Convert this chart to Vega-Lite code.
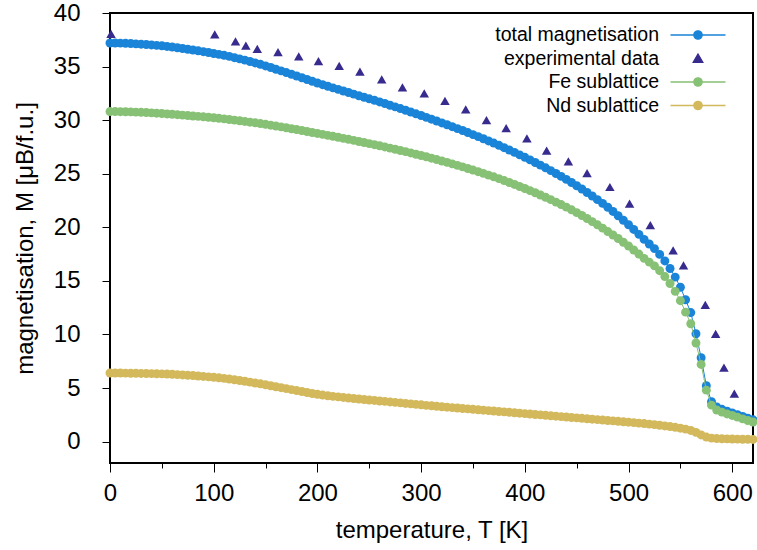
{
  "$schema": "https://vega.github.io/schema/vega-lite/v6.json",
  "width": 643,
  "height": 450,
  "autosize": {"type": "none"},
  "padding": {"left": 110, "top": 13, "right": 4, "bottom": 87},
  "background": "white",
  "config": {
    "font": "Liberation Sans",
    "view": {"stroke": "#000000", "strokeWidth": 2},
    "axis": {
      "labelFont": "Liberation Sans", "titleFont": "Liberation Sans",
      "labelFontSize": 24, "titleFontSize": 24, "titleFontWeight": "normal",
      "labelColor": "#000000", "titleColor": "#000000",
      "tickColor": "#000000", "tickWidth": 1, "domain": false, "grid": false,
      "labelOverlap": false, "labelFlush": false
    }
  },
  "datasets": {
    "total": [
      {"T":0,"M":37.20},{"T":5,"M":37.20},{"T":10,"M":37.19},{"T":15,"M":37.17},{"T":20,"M":37.15},{"T":25,"M":37.12},{"T":30,"M":37.09},{"T":35,"M":37.06},{"T":40,"M":37.02},{"T":45,"M":36.98},
      {"T":50,"M":36.94},{"T":55,"M":36.88},{"T":60,"M":36.83},{"T":65,"M":36.76},{"T":70,"M":36.69},{"T":75,"M":36.62},{"T":80,"M":36.55},{"T":85,"M":36.47},{"T":90,"M":36.39},{"T":95,"M":36.31},
      {"T":100,"M":36.22},{"T":105,"M":36.14},{"T":110,"M":36.05},{"T":115,"M":35.95},{"T":120,"M":35.83},{"T":125,"M":35.72},{"T":130,"M":35.60},{"T":135,"M":35.47},{"T":140,"M":35.34},{"T":145,"M":35.21},
      {"T":150,"M":35.06},{"T":155,"M":34.91},{"T":160,"M":34.75},{"T":165,"M":34.60},{"T":170,"M":34.44},{"T":175,"M":34.28},{"T":180,"M":34.12},{"T":185,"M":33.96},{"T":190,"M":33.79},{"T":195,"M":33.63},
      {"T":200,"M":33.47},{"T":205,"M":33.31},{"T":210,"M":33.16},{"T":215,"M":33.01},{"T":220,"M":32.87},{"T":225,"M":32.72},{"T":230,"M":32.58},{"T":235,"M":32.43},{"T":240,"M":32.28},{"T":245,"M":32.14},
      {"T":250,"M":31.99},{"T":255,"M":31.85},{"T":260,"M":31.70},{"T":265,"M":31.55},{"T":270,"M":31.39},{"T":275,"M":31.24},{"T":280,"M":31.08},{"T":285,"M":30.92},{"T":290,"M":30.76},{"T":295,"M":30.59},
      {"T":300,"M":30.43},{"T":305,"M":30.26},{"T":310,"M":30.09},{"T":315,"M":29.92},{"T":320,"M":29.74},{"T":325,"M":29.57},{"T":330,"M":29.39},{"T":335,"M":29.21},{"T":340,"M":29.03},{"T":345,"M":28.84},
      {"T":350,"M":28.65},{"T":355,"M":28.46},{"T":360,"M":28.26},{"T":365,"M":28.06},{"T":370,"M":27.86},{"T":375,"M":27.65},{"T":380,"M":27.43},{"T":385,"M":27.21},{"T":390,"M":26.99},{"T":395,"M":26.76},
      {"T":400,"M":26.53},{"T":405,"M":26.29},{"T":410,"M":26.05},{"T":415,"M":25.80},{"T":420,"M":25.55},{"T":425,"M":25.29},{"T":430,"M":25.02},{"T":435,"M":24.75},{"T":440,"M":24.47},{"T":445,"M":24.18},
      {"T":450,"M":23.88},{"T":455,"M":23.57},{"T":460,"M":23.25},{"T":465,"M":22.92},{"T":470,"M":22.58},{"T":475,"M":22.23},{"T":480,"M":21.87},{"T":485,"M":21.48},{"T":490,"M":21.08},{"T":495,"M":20.66},
      {"T":500,"M":20.24},{"T":505,"M":19.80},{"T":510,"M":19.34},{"T":515,"M":18.87},{"T":520,"M":18.44},{"T":525,"M":18.01},{"T":530,"M":17.47},{"T":535,"M":16.86},{"T":540,"M":16.15},{"T":545,"M":15.35},
      {"T":550,"M":14.40},{"T":555,"M":13.24},{"T":560,"M":12.04},{"T":565,"M":10.06},{"T":570,"M":7.82},{"T":575,"M":5.22},{"T":580,"M":3.72},{"T":585,"M":3.23},{"T":590,"M":3.01},{"T":595,"M":2.83},
      {"T":600,"M":2.68},{"T":605,"M":2.51},{"T":610,"M":2.34},{"T":615,"M":2.18},{"T":620,"M":2.03}
    ],
    "fe": [
      {"T":0,"M":30.80},{"T":5,"M":30.80},{"T":10,"M":30.79},{"T":15,"M":30.78},{"T":20,"M":30.77},{"T":25,"M":30.75},{"T":30,"M":30.73},{"T":35,"M":30.71},{"T":40,"M":30.68},{"T":45,"M":30.65},
      {"T":50,"M":30.62},{"T":55,"M":30.58},{"T":60,"M":30.55},{"T":65,"M":30.51},{"T":70,"M":30.47},{"T":75,"M":30.43},{"T":80,"M":30.39},{"T":85,"M":30.35},{"T":90,"M":30.31},{"T":95,"M":30.27},
      {"T":100,"M":30.22},{"T":105,"M":30.17},{"T":110,"M":30.12},{"T":115,"M":30.06},{"T":120,"M":30.00},{"T":125,"M":29.94},{"T":130,"M":29.88},{"T":135,"M":29.81},{"T":140,"M":29.75},{"T":145,"M":29.68},
      {"T":150,"M":29.61},{"T":155,"M":29.53},{"T":160,"M":29.45},{"T":165,"M":29.37},{"T":170,"M":29.29},{"T":175,"M":29.20},{"T":180,"M":29.12},{"T":185,"M":29.03},{"T":190,"M":28.94},{"T":195,"M":28.85},
      {"T":200,"M":28.76},{"T":205,"M":28.67},{"T":210,"M":28.58},{"T":215,"M":28.49},{"T":220,"M":28.40},{"T":225,"M":28.30},{"T":230,"M":28.21},{"T":235,"M":28.11},{"T":240,"M":28.01},{"T":245,"M":27.91},
      {"T":250,"M":27.81},{"T":255,"M":27.71},{"T":260,"M":27.61},{"T":265,"M":27.50},{"T":270,"M":27.39},{"T":275,"M":27.28},{"T":280,"M":27.17},{"T":285,"M":27.06},{"T":290,"M":26.94},{"T":295,"M":26.82},
      {"T":300,"M":26.70},{"T":305,"M":26.58},{"T":310,"M":26.45},{"T":315,"M":26.32},{"T":320,"M":26.19},{"T":325,"M":26.06},{"T":330,"M":25.92},{"T":335,"M":25.78},{"T":340,"M":25.64},{"T":345,"M":25.49},
      {"T":350,"M":25.34},{"T":355,"M":25.19},{"T":360,"M":25.03},{"T":365,"M":24.87},{"T":370,"M":24.71},{"T":375,"M":24.54},{"T":380,"M":24.36},{"T":385,"M":24.18},{"T":390,"M":24.00},{"T":395,"M":23.81},
      {"T":400,"M":23.62},{"T":405,"M":23.42},{"T":410,"M":23.22},{"T":415,"M":23.01},{"T":420,"M":22.80},{"T":425,"M":22.58},{"T":430,"M":22.35},{"T":435,"M":22.12},{"T":440,"M":21.88},{"T":445,"M":21.63},
      {"T":450,"M":21.37},{"T":455,"M":21.10},{"T":460,"M":20.82},{"T":465,"M":20.53},{"T":470,"M":20.23},{"T":475,"M":19.92},{"T":480,"M":19.60},{"T":485,"M":19.28},{"T":490,"M":18.95},{"T":495,"M":18.60},
      {"T":500,"M":18.25},{"T":505,"M":17.88},{"T":510,"M":17.50},{"T":515,"M":17.10},{"T":520,"M":16.75},{"T":525,"M":16.40},{"T":530,"M":15.95},{"T":535,"M":15.40},{"T":540,"M":14.75},{"T":545,"M":14.02},
      {"T":550,"M":13.15},{"T":555,"M":12.08},{"T":560,"M":11.00},{"T":565,"M":9.20},{"T":570,"M":7.20},{"T":575,"M":4.80},{"T":580,"M":3.40},{"T":585,"M":2.95},{"T":590,"M":2.75},{"T":595,"M":2.58},
      {"T":600,"M":2.44},{"T":605,"M":2.28},{"T":610,"M":2.12},{"T":615,"M":1.97},{"T":620,"M":1.83}
    ],
    "nd": [
      {"T":0,"M":6.40},{"T":5,"M":6.40},{"T":10,"M":6.40},{"T":15,"M":6.39},{"T":20,"M":6.38},{"T":25,"M":6.37},{"T":30,"M":6.36},{"T":35,"M":6.35},{"T":40,"M":6.34},{"T":45,"M":6.33},
      {"T":50,"M":6.32},{"T":55,"M":6.30},{"T":60,"M":6.28},{"T":65,"M":6.25},{"T":70,"M":6.22},{"T":75,"M":6.19},{"T":80,"M":6.16},{"T":85,"M":6.12},{"T":90,"M":6.08},{"T":95,"M":6.04},
      {"T":100,"M":6.00},{"T":105,"M":5.95},{"T":110,"M":5.90},{"T":115,"M":5.84},{"T":120,"M":5.77},{"T":125,"M":5.70},{"T":130,"M":5.63},{"T":135,"M":5.55},{"T":140,"M":5.47},{"T":145,"M":5.39},
      {"T":150,"M":5.30},{"T":155,"M":5.21},{"T":160,"M":5.12},{"T":165,"M":5.03},{"T":170,"M":4.94},{"T":175,"M":4.85},{"T":180,"M":4.76},{"T":185,"M":4.67},{"T":190,"M":4.58},{"T":195,"M":4.49},
      {"T":200,"M":4.41},{"T":205,"M":4.34},{"T":210,"M":4.28},{"T":215,"M":4.22},{"T":220,"M":4.17},{"T":225,"M":4.12},{"T":230,"M":4.07},{"T":235,"M":4.02},{"T":240,"M":3.97},{"T":245,"M":3.93},
      {"T":250,"M":3.88},{"T":255,"M":3.84},{"T":260,"M":3.79},{"T":265,"M":3.75},{"T":270,"M":3.70},{"T":275,"M":3.66},{"T":280,"M":3.61},{"T":285,"M":3.56},{"T":290,"M":3.52},{"T":295,"M":3.47},
      {"T":300,"M":3.43},{"T":305,"M":3.38},{"T":310,"M":3.34},{"T":315,"M":3.30},{"T":320,"M":3.25},{"T":325,"M":3.21},{"T":330,"M":3.17},{"T":335,"M":3.13},{"T":340,"M":3.09},{"T":345,"M":3.05},
      {"T":350,"M":3.01},{"T":355,"M":2.97},{"T":360,"M":2.93},{"T":365,"M":2.89},{"T":370,"M":2.85},{"T":375,"M":2.81},{"T":380,"M":2.77},{"T":385,"M":2.73},{"T":390,"M":2.69},{"T":395,"M":2.65},
      {"T":400,"M":2.61},{"T":405,"M":2.57},{"T":410,"M":2.53},{"T":415,"M":2.49},{"T":420,"M":2.45},{"T":425,"M":2.41},{"T":430,"M":2.37},{"T":435,"M":2.33},{"T":440,"M":2.29},{"T":445,"M":2.25},
      {"T":450,"M":2.21},{"T":455,"M":2.17},{"T":460,"M":2.13},{"T":465,"M":2.09},{"T":470,"M":2.05},{"T":475,"M":2.01},{"T":480,"M":1.97},{"T":485,"M":1.93},{"T":490,"M":1.89},{"T":495,"M":1.85},
      {"T":500,"M":1.81},{"T":505,"M":1.77},{"T":510,"M":1.72},{"T":515,"M":1.68},{"T":520,"M":1.63},{"T":525,"M":1.58},{"T":530,"M":1.52},{"T":535,"M":1.46},{"T":540,"M":1.40},{"T":545,"M":1.33},
      {"T":550,"M":1.25},{"T":555,"M":1.16},{"T":560,"M":1.04},{"T":565,"M":0.86},{"T":570,"M":0.62},{"T":575,"M":0.42},{"T":580,"M":0.32},{"T":585,"M":0.28},{"T":590,"M":0.26},{"T":595,"M":0.25},
      {"T":600,"M":0.24},{"T":605,"M":0.23},{"T":610,"M":0.22},{"T":615,"M":0.21},{"T":620,"M":0.20}
    ],
    "exp": [
      {"T":1,"M":38.05},{"T":101,"M":38.0},{"T":121,"M":37.35},{"T":131,"M":36.95},{"T":142,"M":36.65},{"T":162,"M":36.35},{"T":182,"M":35.95},{"T":201,"M":35.5},{"T":221,"M":35.07},{"T":241,"M":34.52},
      {"T":262,"M":33.8},{"T":282,"M":33.05},{"T":303,"M":32.5},{"T":323,"M":31.8},{"T":343,"M":31.0},{"T":363,"M":30.0},{"T":382,"M":29.25},{"T":402,"M":28.3},{"T":421,"M":27.15},{"T":442,"M":26.15},
      {"T":460,"M":25.05},{"T":482,"M":23.76},{"T":501,"M":22.2},{"T":521,"M":20.2},{"T":543,"M":17.85},{"T":553,"M":16.45},{"T":574,"M":12.75},{"T":584,"M":10.05},{"T":592,"M":6.9},{"T":602,"M":4.48}
    ]
  },
  "layer": [
    {
      "mark": {"type": "rule", "color": "#333333", "strokeWidth": 1, "strokeDash": [1.5, 2.5]},
      "encoding": {"y": {"datum": 0, "type": "quantitative"}}
    },
    {
      "data": {"name": "total"},
      "mark": {"type": "line", "strokeWidth": 1},
      "encoding": {
        "x": {"field": "T", "type": "quantitative",
          "scale": {"domain": [0, 620], "nice": false, "zero": false},
          "axis": {"title": "temperature, T [K]",
            "values": [0,50,100,150,200,250,300,350,400,450,500,550,600],
            "labelExpr": "datum.value % 100 === 0 ? datum.label : ''",
            "tickSize": {"condition": {"test": "datum.value % 100 === 0", "value": 9}, "value": 5},
            "labelPadding": 9, "titlePadding": 13}},
        "y": {"field": "M", "type": "quantitative",
          "scale": {"domain": [-2, 40], "nice": false, "zero": false},
          "axis": {"title": "magnetisation, M [μB/f.u.]",
            "values": [0,2.5,5,7.5,10,12.5,15,17.5,20,22.5,25,27.5,30,32.5,35,37.5,40],
            "labelExpr": "datum.value % 5 === 0 ? datum.label : ''",
            "tickSize": {"condition": {"test": "datum.value % 5 === 0", "value": 8}, "value": 4},
            "labelPadding": 22, "titlePadding": 16}},
        "color": {"datum": "total magnetisation", "type": "nominal",
          "scale": {"domain": ["total magnetisation", "experimental data", "Fe sublattice", "Nd sublattice"],
            "range": ["#1a84d8", "#372b8e", "#87c175", "#d3b95c"]},
          "legend": {
            "orient": "none", "legendX": 577, "legendY": 11, "title": null,
            "padding": 0, "offset": 0,
            "labelFont": "Liberation Sans", "labelFontSize": 19.5, "labelColor": "#000000",
            "labelAlign": "right", "labelBaseline": "middle", "labelOffset": -50,
            "symbolSize": 400, "rowPadding": 2.5, "labelLimit": 400,
            "encode": {
              "symbols": {
                "update": {
                  "shape": {"signal": "datum.value === 'experimental data' ? 'M0,-0.45L0.48,0.38L-0.48,0.38Z' : 'M-2.75,0L2.75,0M-0.42,0A0.42,0.42 0 1 1 0.42,0A0.42,0.42 0 1 1 -0.42,0Z'"},
                  "fill": {"scale": "color", "field": "value"},
                  "stroke": {"scale": "color", "field": "value"},
                  "strokeWidth": {"value": 1.3},
                  "opacity": {"value": 1},
                  "size": {"value": 400}
                }
              }
            }
          }}
      }
    },
    {
      "data": {"name": "total"},
      "mark": {"type": "point", "shape": "circle", "filled": true, "opacity": 1, "size": 80},
      "encoding": {
        "x": {"field": "T", "type": "quantitative"},
        "y": {"field": "M", "type": "quantitative"},
        "color": {"datum": "total magnetisation", "type": "nominal"}
      }
    },
    {
      "data": {"name": "exp"},
      "mark": {"type": "point", "shape": "triangle-up", "filled": true, "opacity": 1, "size": 90},
      "encoding": {
        "x": {"field": "T", "type": "quantitative"},
        "y": {"field": "M", "type": "quantitative"},
        "color": {"datum": "experimental data", "type": "nominal"}
      }
    },
    {
      "data": {"name": "fe"},
      "mark": {"type": "line", "strokeWidth": 1},
      "encoding": {
        "x": {"field": "T", "type": "quantitative"},
        "y": {"field": "M", "type": "quantitative"},
        "color": {"datum": "Fe sublattice", "type": "nominal"}
      }
    },
    {
      "data": {"name": "fe"},
      "mark": {"type": "point", "shape": "circle", "filled": true, "opacity": 1, "size": 80},
      "encoding": {
        "x": {"field": "T", "type": "quantitative"},
        "y": {"field": "M", "type": "quantitative"},
        "color": {"datum": "Fe sublattice", "type": "nominal"}
      }
    },
    {
      "data": {"name": "nd"},
      "mark": {"type": "line", "strokeWidth": 1},
      "encoding": {
        "x": {"field": "T", "type": "quantitative"},
        "y": {"field": "M", "type": "quantitative"},
        "color": {"datum": "Nd sublattice", "type": "nominal"}
      }
    },
    {
      "data": {"name": "nd"},
      "mark": {"type": "point", "shape": "circle", "filled": true, "opacity": 1, "size": 80},
      "encoding": {
        "x": {"field": "T", "type": "quantitative"},
        "y": {"field": "M", "type": "quantitative"},
        "color": {"datum": "Nd sublattice", "type": "nominal"}
      }
    }
  ]
}
